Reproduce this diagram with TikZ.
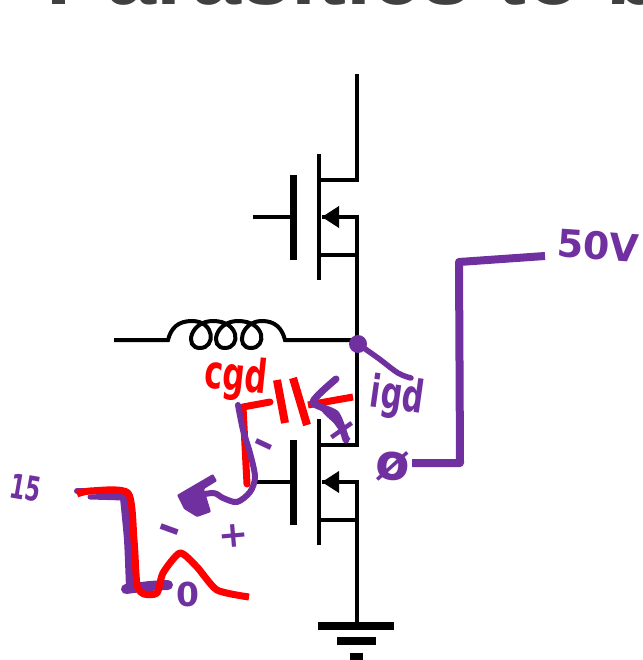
\documentclass[tikz,border=0pt]{standalone}
\usepackage{fontspec}
\setmainfont{Liberation Sans}
\newfontfamily\inkfont{DejaVu Sans}
\usepackage{tikz}
\usetikzlibrary{calc}
\definecolor{inkpurple}{HTML}{7030A0}
\definecolor{inkred}{HTML}{FF0000}
\definecolor{titlegrey}{HTML}{404040}
\newcommand{\inksize}[1]{\inkfont\bfseries\fontsize{#1}{#1}\selectfont}

\begin{document}
\begin{tikzpicture}[x=1pt,y=-1pt,
  wire/.style={draw=black,line width=4pt,line join=miter},
  plate/.style={draw=black,line width=7pt},
  gndbar/.style={draw=black,line width=8pt},
  ppen/.style={draw=inkpurple,line width=6pt,line cap=round,line join=round},
  rpen/.style={draw=inkred,line width=7pt,line join=round},
  ptext/.style={text=inkpurple,inner sep=0pt,transform shape},
  rtext/.style={text=inkred,inner sep=0pt,transform shape}]
\useasboundingbox (0,0) rectangle (642,660);
\clip (0,0) rectangle (642,660);

\node (title) at (46,5) [anchor=base west,inner sep=0pt,text=titlegrey,font=\bfseries\fontsize{90}{90}\selectfont] {Parasitics to b};

\coordinate (top) at (357,74);
\coordinate (d1) at (357,180);
\coordinate (ct1) at (319,154);
\coordinate (cd1) at (319,180);
\coordinate (cb1) at (319,280);
\coordinate (cs1) at (319,255);
\coordinate (s1) at (357,255);
\coordinate (b1) at (357,217);
\coordinate (tip1) at (322,217);
\coordinate (g1) at (253,217);
\coordinate (pg1) at (293,217);
\coordinate (pt1) at (293,175);
\coordinate (pb1) at (293,260);

\coordinate (mid) at (357,340);
\coordinate (l1) at (114,340);
\coordinate (l2) at (168,340);
\coordinate (l3) at (285,340);

\coordinate (d2) at (357,445);
\coordinate (ct2) at (319,419);
\coordinate (cd2) at (319,445);
\coordinate (cb2) at (319,545);
\coordinate (cs2) at (319,520);
\coordinate (s2) at (357,520);
\coordinate (b2) at (357,482);
\coordinate (tip2) at (322,482);
\coordinate (g2) at (253,482);
\coordinate (pg2) at (293,482);
\coordinate (pt2) at (293,440);
\coordinate (pb2) at (293,525);
\coordinate (gnd) at (357,626);

\draw[wire] (top) -- (d1) -- (cd1);
\draw[wire] (ct1) -- (cb1);
\draw[wire] (cs1) -- (s1);
\draw[wire] (tip1) -- (b1) -- (mid);
\draw[wire] (g1) -- (pg1);
\draw[plate] (pt1) -- (pb1);
\fill[black] (tip1) -- ($(tip1)+(17,-11)$) -- ($(tip1)+(17,11)$) -- cycle;

\draw[wire] (l1) -- (l2) .. controls (171,328) and (178,321) .. (192,321) .. controls (215,321) and (216,348) .. (200,348) .. controls (184,348) and (190,321) .. (213,321) .. controls (240,321) and (241,348) .. (225,348) .. controls (209,348) and (215,321) .. (238,321) .. controls (266,321) and (267,348) .. (251,348) .. controls (235,348) and (241,321) .. (262,321) .. controls (275,321) and (282,328) .. (l3) -- (mid);

\draw[wire] (mid) -- (d2) -- (cd2);
\draw[wire] (ct2) -- (cb2);
\draw[wire] (cs2) -- (s2);
\draw[wire] (tip2) -- (b2) -- (gnd);
\draw[wire] (g2) -- (pg2);
\draw[plate] (pt2) -- (pb2);
\fill[black] (tip2) -- ($(tip2)+(17,-11)$) -- ($(tip2)+(17,11)$) -- cycle;

\coordinate (gl1) at (318,626);
\coordinate (gr1) at (394,626);
\coordinate (gl2) at (337,641);
\coordinate (gr2) at (376,641);
\coordinate (gl3) at (350,657);
\coordinate (gr3) at (363,657);
\draw[gndbar] (gl1) -- (gr1);
\draw[gndbar] (gl2) -- (gr2);
\draw[gndbar] (gl3) -- (gr3);

\draw[ppen] plot[smooth,tension=0.4] coordinates {(77,491) (100,492) (130,496)};
\draw[ppen,line width=5pt] (90,497) -- (124,498);
\draw[ppen,line width=8pt,line cap=butt] plot[smooth,tension=0.4] coordinates {(124,498) (128,540) (130,588)};
\draw[ppen,line width=10pt] plot[smooth,tension=0.5] coordinates {(126,589) (150,586) (168,585)};

\node (cgd) at (236,378) [rtext,rotate=-6,yscale=1.5,font=\inksize{31}] {cgd};
\node (c0) at (188,594) [ptext,font=\inksize{33}] {0};
\draw[rpen] plot[smooth,tension=0.4] coordinates {(77,494) (90,491) (128,493) (134,540) (137,585) (144,594) (157,593) (163,573) (180,553) (197,567) (217,590) (249,597)};
\draw[rpen,line cap=round] (247,484) -- (243,407) -- (270,402);
\draw[rpen,line width=8pt] (277,380) -- (285,423);
\draw[rpen,line width=8pt] (293,378) -- (307,425);
\draw[rpen] (308,405) -- (353,397);

\draw[ppen] plot[smooth,tension=0.5] coordinates {(238,405) (243,430) (250,453) (255,477) (250,492) (237,502) (223,498) (213,493) (190,497)};
\fill[inkpurple,rounded corners=1pt] (177,495) -- (213,474) -- (217,481) -- (204,489) -- (211,512) -- (197,517) -- (184,509) -- cycle;

\node (minusa) at (262,449) [ptext,rotate=-25,font=\inksize{42}] {–};
\node (minusb) at (168,534) [ptext,rotate=-20,font=\inksize{46}] {–};
\node (plusa) at (234,536) [ptext,rotate=5,font=\inksize{36}] {+};
\node (plusb) at (342,431) [ptext,rotate=35,font=\inksize{40}] {+};
\node (vs) at (26,488) [ptext,rotate=-10,xscale=0.85,yscale=1.3,font=\inksize{26}] {15};

\draw[ppen,line width=7pt] plot[smooth,tension=0.4] coordinates {(336,379) (313,402) (336,414) (346,440)};
\fill[inkpurple] (313,402) -- (338,411) -- (344,432) -- (326,416) -- cycle;

\node (dot) at (358,344) [circle,fill=inkpurple,minimum size=18pt,inner sep=0pt] {};
\coordinate (igdend) at (411,378);
\draw[ppen,line width=5.5pt] plot[smooth,tension=0.6] coordinates {(dot) (378,358) (398,373) (igdend)};
\node (igd) at (397,398) [ptext,rotate=-8,yscale=1.5,font=\inksize{30}] {igd};
\node (phi) at (393,466) [ptext,rotate=-5,font=\inksize{50}] {ø};

\coordinate (step1) at (412,463);
\coordinate (step2) at (460,463);
\coordinate (step3) at (459,262);
\coordinate (step4) at (545,256);
\draw[ppen,line width=8pt,line cap=butt,line join=round] (step1) -- (step2) -- (step3) -- (step4);
\node (volts) at (598,246) [ptext,rotate=-4,font=\inksize{38}] {50V};
\end{tikzpicture}
\end{document}
